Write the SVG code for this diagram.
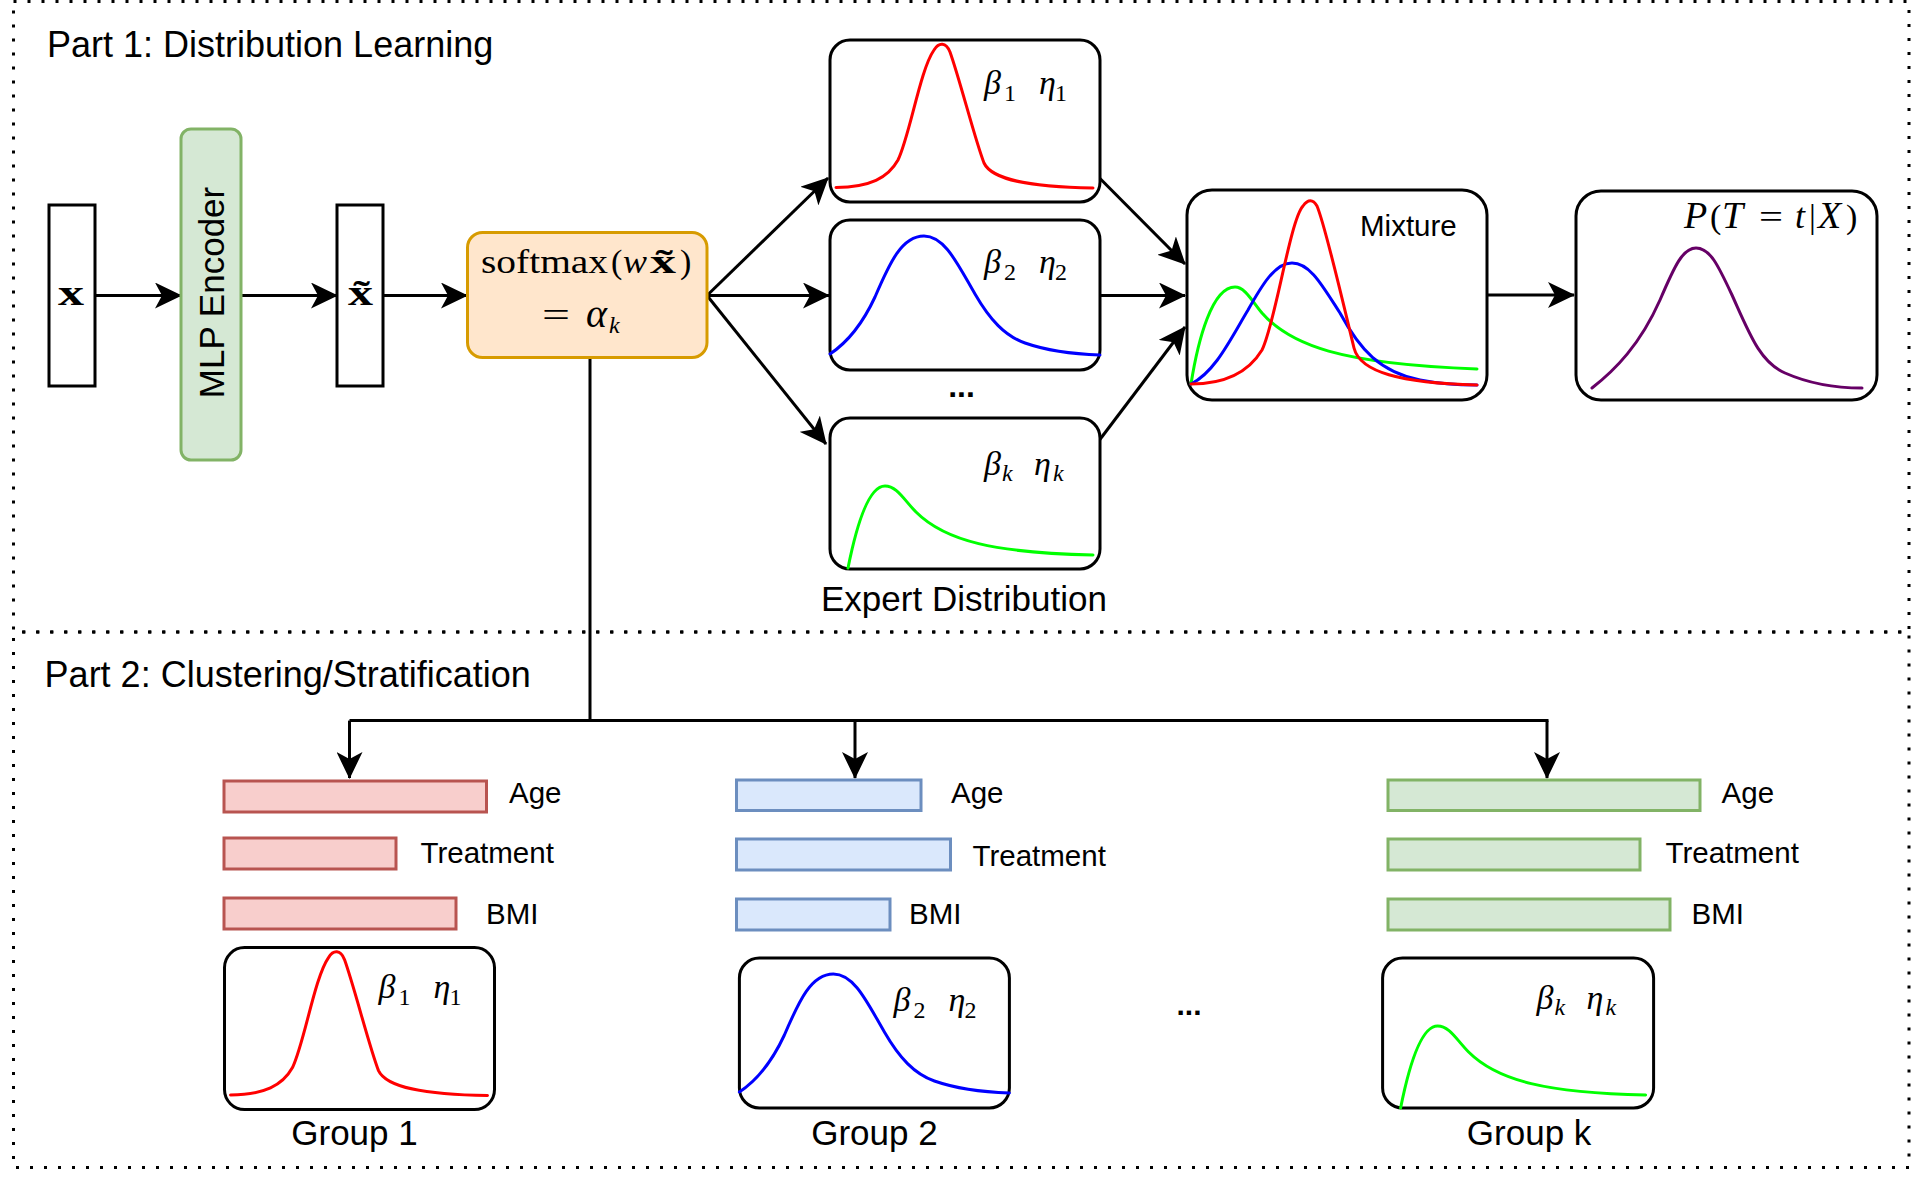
<svg xmlns="http://www.w3.org/2000/svg" width="1911" height="1182" viewBox="0 0 1911 1182">
<defs>
<style>
.frame{fill:none;stroke:#000;stroke-width:3;stroke-dasharray:3 11}
.box{fill:#fff;stroke:#000;stroke-width:3}
.conn{fill:none;stroke:#000;stroke-width:3}
.arr{marker-end:url(#ah)}
.sans{font-family:"Liberation Sans",Arial,sans-serif;fill:#000}
.math{font-family:"Liberation Serif","Times New Roman",serif;fill:#000}
.it{font-style:italic}
.bd{font-weight:bold}
.curve{fill:none;stroke-width:3;stroke-linecap:round;stroke-linejoin:round}
.red{stroke:#ff0000}.blue{stroke:#0000ff}.green{stroke:#00ff00}.purple{stroke:#660066}
.rbar{fill:#f8cecc;stroke:#b85450;stroke-width:3}
.bbar{fill:#dae8fc;stroke:#6c8ebf;stroke-width:3}
.gbar{fill:#d5e8d4;stroke:#82b366;stroke-width:3}
.lbl{font-size:29.5px}
.big{font-size:35px}
.ttl{font-size:36px}
.sym{font-size:34px}
.sub{font-size:24px}
</style>
<marker id="ah" viewBox="0 0 27 26" refX="26" refY="13" markerWidth="27" markerHeight="26" orient="auto" markerUnits="userSpaceOnUse">
<path d="M0,0 L27,13 L0,26 L7,13 Z" fill="#000"/>
</marker>
<path id="cRed" d="M6,147.5 C40,147 58,138 68,120 C80,95 90,30 104,10 C109,2 116,2 120,12 C130,40 145,100 154,123 C162,140 200,147 263,148"/>
<path id="cBlue" d="M0,134 C18,122 32,105 45,77 C60,42 72,16 94,16 C115,16 128,45 145,74 C160,100 175,116 195,123 C215,130 240,134 270,135"/>
<path id="cGreen" d="M18,150 C26,110 38,68 55,68 C67,68 74,82 86,94 C115,123 165,135 263,137"/>
</defs>

<rect x="0" y="0" width="1911" height="1182" fill="#fff"/>

<g id="part1-frame">
<rect class="frame" x="13.5" y="1.5" width="1895.5" height="630.5"/>
<text class="sans ttl" x="47" y="57">Part 1: Distribution Learning</text>
</g>
<g id="part2-frame">
<rect class="frame" x="13.5" y="632" width="1895.5" height="535.5" style="stroke-dashoffset:5"/>
<text class="sans ttl" x="44.6" y="687">Part 2: Clustering/Stratification</text>
</g>

<g id="connectors">
<line class="conn arr" x1="95" y1="295.5" x2="181" y2="295.5"/>
<line class="conn arr" x1="241" y1="295.5" x2="337" y2="295.5"/>
<line class="conn arr" x1="383" y1="295.5" x2="467" y2="295.5"/>
<line class="conn arr" x1="707" y1="295.5" x2="828" y2="178"/>
<line class="conn arr" x1="707" y1="295.5" x2="829" y2="295.5"/>
<line class="conn arr" x1="707" y1="295.5" x2="826" y2="444"/>
<line class="conn arr" x1="1099.5" y1="178" x2="1185" y2="264"/>
<line class="conn arr" x1="1099.5" y1="295.5" x2="1185" y2="295.5"/>
<line class="conn arr" x1="1099.5" y1="440" x2="1185" y2="327"/>
<line class="conn arr" x1="1487" y1="295" x2="1574" y2="295"/>
<path class="conn" d="M590,358 V720.6 M349.5,720.6 H1548.5"/>
<line class="conn arr" x1="349.5" y1="720.6" x2="349.5" y2="778"/>
<line class="conn arr" x1="855" y1="720.6" x2="855" y2="778"/>
<line class="conn arr" x1="1547" y1="720.6" x2="1547" y2="778"/>
</g>

<g id="x-input">
<rect class="box" x="49" y="205" width="46" height="181"/>
<text class="math bd" x="58" y="305" font-size="36" textLength="26" lengthAdjust="spacingAndGlyphs">x</text>
</g>

<g id="mlp-encoder">
<rect x="181" y="129" width="60" height="331" rx="10" fill="#d5e8d4" stroke="#82b366" stroke-width="3"/>
<text class="sans big" transform="translate(224,292.5) rotate(-90)" text-anchor="middle">MLP Encoder</text>
</g>

<g id="x-tilde">
<rect class="box" x="337" y="205" width="46" height="181"/>
<text class="math bd" x="348" y="305" font-size="36" textLength="25" lengthAdjust="spacingAndGlyphs">x̃</text>
</g>

<g id="softmax">
<rect x="467.5" y="232.5" width="239.5" height="125" rx="15" fill="#ffe6cc" stroke="#d79b00" stroke-width="3"/>
<text class="math" x="481" y="273" font-size="34" textLength="127" lengthAdjust="spacingAndGlyphs">softmax</text>
<text class="math" x="611" y="273" font-size="34">(</text>
<text class="math it" x="623" y="273" font-size="34" textLength="24" lengthAdjust="spacingAndGlyphs">w</text>
<text class="math bd" x="650" y="273" font-size="34" textLength="26" lengthAdjust="spacingAndGlyphs">x̃</text>
<text class="math" x="680" y="273" font-size="34">)</text>
<text class="math" x="542" y="327" font-size="36" textLength="28" lengthAdjust="spacingAndGlyphs">=</text>
<text class="math it" x="586" y="327" font-size="40">α</text>
<text class="math it" x="609" y="333" font-size="24">k</text>
</g>

<g id="expert1" transform="translate(830,40)">
<rect class="box" x="0" y="0" width="270" height="162" rx="20"/>
<use href="#cRed" class="curve red"/>
<text class="math it sym" x="154" y="54">β</text><text class="math sub" x="174" y="61">1</text>
<text class="math it sym" x="209" y="54">η</text><text class="math sub" x="225" y="61">1</text>
</g>

<g id="expert2" transform="translate(830,220)">
<rect class="box" x="0" y="0" width="270" height="150" rx="20"/>
<use href="#cBlue" class="curve blue"/>
<text class="math it sym" x="154" y="53">β</text><text class="math sub" x="174" y="60">2</text>
<text class="math it sym" x="209" y="53">η</text><text class="math sub" x="225" y="60">2</text>
</g>

<g id="expert-dots">
<text class="sans bd" x="961.5" y="396.5" font-size="32" text-anchor="middle">...</text>
</g>

<g id="expertk" transform="translate(830,418)">
<rect class="box" x="0" y="0" width="270" height="151" rx="20"/>
<use href="#cGreen" class="curve green"/>
<text class="math it sym" x="154" y="57">β</text><text class="math it sub" x="172" y="63">k</text>
<text class="math it sym" x="204" y="57">η</text><text class="math it sub" x="223" y="63">k</text>
</g>

<g id="expert-label">
<text class="sans big" x="964" y="611" text-anchor="middle">Expert Distribution</text>
</g>

<g id="mixture">
<rect class="box" x="1187" y="190" width="300" height="210" rx="25"/>
<text class="sans lbl" x="1360" y="236">Mixture</text>
<path class="curve green" d="M1191,384 C1198,340 1212,287 1235,287 C1245,287 1252,301 1262,313 C1290,345 1340,364 1477,369"/>
<path class="curve blue" d="M1191,384 C1215,372 1230,340 1248,310 C1262,285 1275,263 1292,263 C1310,263 1322,285 1340,313 C1360,350 1380,372 1420,380 C1440,384 1460,385 1477,385"/>
<path class="curve red" d="M1191,384 C1215,384 1245,378 1262,350 C1275,325 1290,220 1303,206 C1308,199 1313,199 1317,206 C1325,225 1340,290 1354,348 C1360,372 1400,383 1477,385"/>
</g>

<g id="output">
<rect class="box" x="1576" y="191" width="301" height="209" rx="25"/>
<path class="curve purple" d="M1592,388 C1615,370 1640,345 1660,300 C1675,265 1683,248 1696,248 C1710,248 1718,265 1732,295 C1750,335 1760,362 1785,373 C1810,384 1835,388 1862,388"/>
<text class="math it" x="1684" y="228" font-size="38">P</text>
<text class="math" x="1710" y="228" font-size="34">(</text>
<text class="math it" x="1722" y="228" font-size="38">T</text>
<text class="math" x="1759" y="228" font-size="34" textLength="24" lengthAdjust="spacingAndGlyphs">=</text>
<text class="math it" x="1795" y="228" font-size="36">t</text>
<text class="math" x="1809" y="228" font-size="34">|</text>
<text class="math it" x="1818" y="228" font-size="38">X</text>
<text class="math" x="1846" y="228" font-size="34">)</text>
</g>

<g id="bars1">
<rect class="rbar" x="224" y="781" width="262.5" height="31"/>
<rect class="rbar" x="224" y="838" width="172" height="31"/>
<rect class="rbar" x="224" y="898" width="232" height="31"/>
<text class="sans lbl" x="509" y="803">Age</text>
<text class="sans lbl" x="420.5" y="863">Treatment</text>
<text class="sans lbl" x="486" y="923.5">BMI</text>
</g>

<g id="bars2">
<rect class="bbar" x="736.5" y="780" width="184.5" height="30.5"/>
<rect class="bbar" x="736.5" y="839" width="214" height="31"/>
<rect class="bbar" x="736.5" y="899" width="153.5" height="31"/>
<text class="sans lbl" x="951" y="803">Age</text>
<text class="sans lbl" x="972.5" y="866">Treatment</text>
<text class="sans lbl" x="909" y="923.5">BMI</text>
</g>

<g id="barsk">
<rect class="gbar" x="1388" y="780" width="312" height="30.5"/>
<rect class="gbar" x="1388" y="839" width="252" height="31"/>
<rect class="gbar" x="1388" y="899" width="282" height="31"/>
<text class="sans lbl" x="1721.6" y="803">Age</text>
<text class="sans lbl" x="1665.5" y="863">Treatment</text>
<text class="sans lbl" x="1691.6" y="923.5">BMI</text>
</g>

<g id="group1" transform="translate(224.5,947.6)">
<rect class="box" x="0" y="0" width="270" height="162" rx="20"/>
<use href="#cRed" class="curve red"/>
<text class="math it sym" x="154" y="50">β</text><text class="math sub" x="174" y="57">1</text>
<text class="math it sym" x="209" y="50">η</text><text class="math sub" x="225" y="57">1</text>
<text class="sans big" x="130" y="197" text-anchor="middle">Group 1</text>
</g>

<g id="group2" transform="translate(739.4,958)">
<rect class="box" x="0" y="0" width="270" height="150" rx="20"/>
<use href="#cBlue" class="curve blue"/>
<text class="math it sym" x="154" y="53">β</text><text class="math sub" x="174" y="60">2</text>
<text class="math it sym" x="209" y="53">η</text><text class="math sub" x="225" y="60">2</text>
<text class="sans big" x="135" y="186.6" text-anchor="middle">Group 2</text>
</g>

<g id="group-dots">
<text class="sans bd" x="1189" y="1015" font-size="30" text-anchor="middle">...</text>
</g>

<g id="groupk" transform="translate(1382.6,958)">
<rect class="box" x="0" y="0" width="271" height="150" rx="20"/>
<use href="#cGreen" class="curve green"/>
<text class="math it sym" x="154" y="51">β</text><text class="math it sub" x="172" y="57">k</text>
<text class="math it sym" x="204" y="51">η</text><text class="math it sub" x="223" y="57">k</text>
<text class="sans big" x="146.5" y="186.6" text-anchor="middle">Group k</text>
</g>
</svg>
